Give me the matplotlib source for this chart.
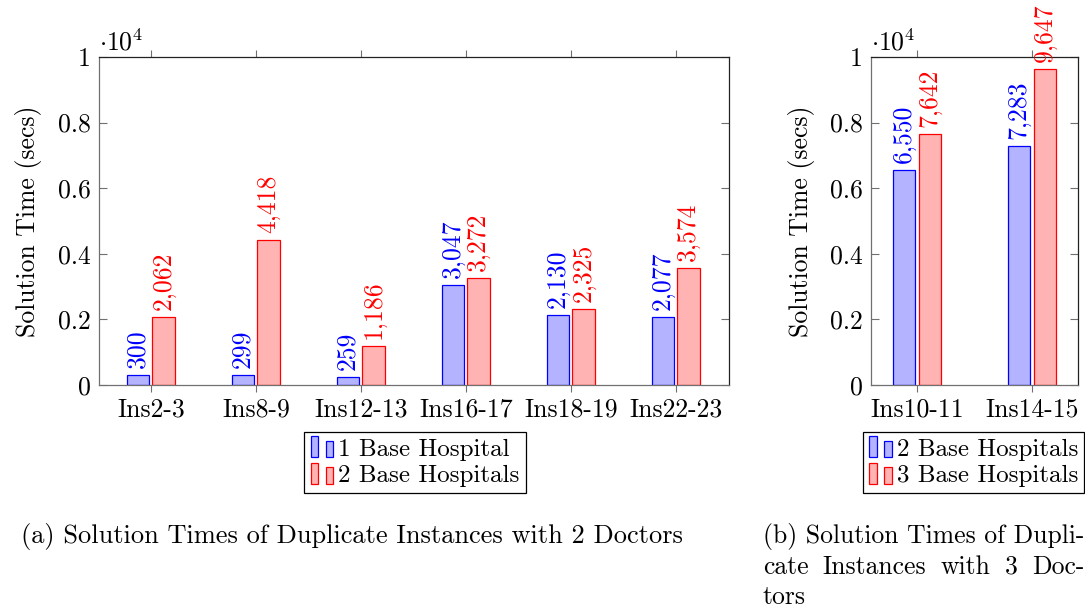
import numpy as np
import matplotlib
matplotlib.use("Agg")
import matplotlib.pyplot as plt
from matplotlib.patches import Rectangle
from matplotlib.container import BarContainer
from matplotlib.ticker import FuncFormatter

plt.rcParams['font.family'] = 'cmr10'
plt.rcParams['mathtext.fontset'] = 'cm'
plt.rcParams['axes.formatter.use_mathtext'] = True

# two doctors
cats_a = ['Ins2-3', 'Ins8-9', 'Ins12-13', 'Ins16-17', 'Ins18-19', 'Ins22-23']
one_base = [300, 299, 259, 3047, 2130, 2077]
two_base_a = [2062, 4418, 1186, 3272, 2325, 3574]

# three doctors
cats_b = ['Ins10-11', 'Ins14-15']
two_base_b = [6550, 7283]
three_base = [7642, 9647]

FS = 18.5
CAP_FS = 19.0
BLUE_FILL = '#b3b3ff'
RED_FILL = '#ffb3b3'
GRAY = '#707070'


class BarPairHandler:
    # two little bars side by side, like a pgfplots ybar legend
    def legend_artist(self, legend, orig_handle, fontsize, handlebox):
        x0, y0 = handlebox.xdescent, handlebox.ydescent
        w, h = handlebox.width, handlebox.height
        p = orig_handle.patches[0]
        fc = p.get_facecolor()
        ec = p.get_edgecolor()
        bw = w * 0.3
        r1 = Rectangle((x0, y0 - h * 0.1), bw, h * 1.2, fc=fc, ec=ec, lw=0.9,
                       transform=handlebox.get_transform())
        r2 = Rectangle((x0 + w * 0.6, y0 - h * 0.1), bw, h * 0.95, fc=fc, ec=ec, lw=0.9,
                       transform=handlebox.get_transform())
        handlebox.add_artist(r1)
        handlebox.add_artist(r2)
        return r1


def draw_panel(ax, cats, s1, s2, off1, off2, width, xlim):
    x = np.arange(len(cats))
    b1 = ax.bar(x + off1, s1, width, color=BLUE_FILL, edgecolor='blue', linewidth=0.9)
    b2 = ax.bar(x + off2, s2, width, color=RED_FILL, edgecolor='red', linewidth=0.9)
    for xi, v in zip(x + off1, s1):
        ax.annotate(f'{v:,}', (xi, v), xytext=(0, 5), textcoords='offset points',
                    rotation=90, ha='center', va='bottom', color='blue',
                    fontsize=FS, annotation_clip=False)
    for xi, v in zip(x + off2, s2):
        ax.annotate(f'{v:,}', (xi, v), xytext=(0, 5), textcoords='offset points',
                    rotation=90, ha='center', va='bottom', color='red',
                    fontsize=FS, annotation_clip=False)
    ax.set_xlim(*xlim)
    ax.set_ylim(0, 10000)
    ax.set_xticks(x)
    ax.set_xticklabels(cats, fontsize=FS)
    ax.set_yticks(np.arange(0, 10001, 2000))
    ax.yaxis.set_major_formatter(FuncFormatter(lambda v, p: '0' if v == 0 else ('1' if v == 10000 else f'{v/1e4:.1f}')))
    ax.tick_params(axis='y', direction='in', left=True, right=True, length=6,
                   color=GRAY, labelsize=FS, pad=6)
    ax.tick_params(axis='x', direction='out', bottom=True, top=True, length=5,
                   color=GRAY, labelsize=FS, pad=4)
    for s in ['left', 'bottom']:
        ax.spines[s].set_color(GRAY)
    for s in ['top', 'right']:
        ax.spines[s].set_color('#222222')
    for s in ax.spines.values():
        s.set_linewidth(0.9)
    ax.set_ylabel('Solution Time (secs)', fontsize=FS, labelpad=11)
    ax.text(0.0, 1.005, r'$\cdot 10^{4}$', transform=ax.transAxes, fontsize=FS,
            ha='left', va='bottom')
    return b1, b2


fig = plt.figure(figsize=(10.85, 6.13), dpi=100)
ax1 = fig.add_axes([0.0912, 0.3719, 0.5806, 0.5351])
ax2 = fig.add_axes([0.8028, 0.3719, 0.1908, 0.5351])

h1, h2 = draw_panel(ax1, cats_a, one_base, two_base_a, -0.13, 0.115, 0.21, (-0.5, 5.5))
h3, h4 = draw_panel(ax2, cats_b, two_base_b, three_base, -0.115, 0.11, 0.19, (-0.4, 1.4))

leg_kw = dict(fontsize=18, frameon=True, fancybox=False, edgecolor='black',
              framealpha=1, handlelength=1.0, handletextpad=0.1, borderpad=0.25,
              labelspacing=0.15, borderaxespad=0,
              handler_map={BarContainer: BarPairHandler()})
leg1 = fig.legend([h1, h2], ['1 Base Hospital', '2 Base Hospitals'],
                  loc='upper center', bbox_to_anchor=(0.3825, 0.2953), **leg_kw)
leg1.get_frame().set_linewidth(0.9)
leg2 = fig.legend([h3, h4], ['2 Base Hospitals', '3 Base Hospitals'],
                  loc='upper left', bbox_to_anchor=(0.7955, 0.2953), **leg_kw)
leg2.get_frame().set_linewidth(0.9)

# sub-captions
fig.text(0.019, 0.114, '(a) Solution Times of Duplicate Instances with 2 Doctors',
         fontsize=CAP_FS, ha='left', va='baseline')
cap_x = 0.703
first = fig.text(cap_x, 0.114, '(b) Solution Times of Dupli-', fontsize=FS,
                 ha='left', va='baseline')
fig.text(cap_x, 0.014, 'tors', fontsize=FS, ha='left', va='baseline')

# second line is justified to the width of the first
renderer = fig.canvas.get_renderer()
line_w = first.get_window_extent(renderer).width / fig.bbox.width
words = ['cate', 'Instances', 'with', '3', 'Doc-']
word_txt = [fig.text(0, 0.064, w, fontsize=FS, ha='left', va='baseline') for w in words]
widths = [t.get_window_extent(renderer).width / fig.bbox.width for t in word_txt]
gap = (line_w - sum(widths)) / (len(words) - 1)
xpos = cap_x
for t, w in zip(word_txt, widths):
    t.set_x(xpos)
    xpos += w + gap

fig.savefig('out.png', dpi=100)
